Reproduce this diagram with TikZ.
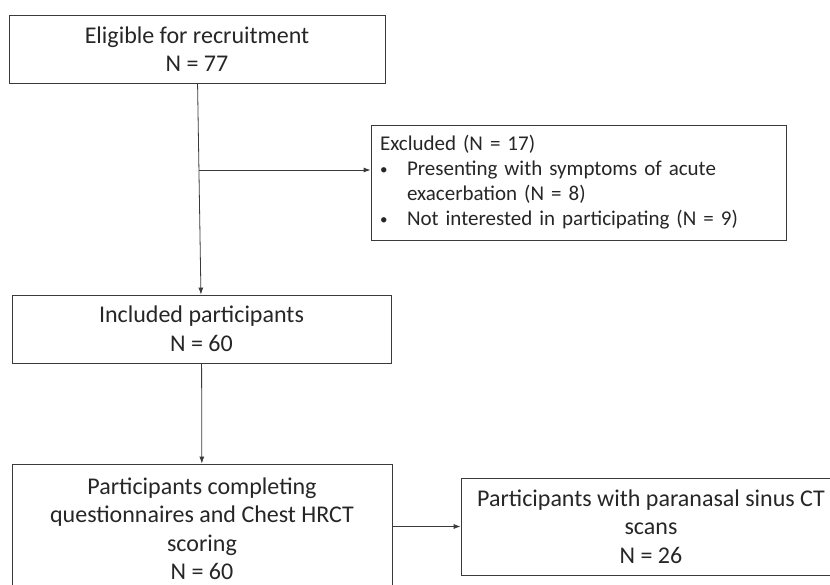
\documentclass[tikz,border=0pt]{standalone}
\usepackage{fontspec}
\setmainfont{Carlito}
\usetikzlibrary{calc}
\usetikzlibrary{positioning}
\usetikzlibrary{arrows.meta}
\definecolor{linegray}{HTML}{3A3A3A}
\definecolor{textgray}{HTML}{262626}
\newcommand{\smallbullet}{\makebox[27pt][l]{\raisebox{0.1ex}{\fontsize{15}{0}\selectfont\textbullet}}}

\begin{document}
\begin{tikzpicture}[
		x=1pt,y=-1pt,
		>={Latex[length=7pt,width=5pt]},
		stage/.style={draw=linegray,line width=0.8pt,rectangle,align=center,text=textgray,inner sep=0pt,font=\fontsize{24}{28.5}\selectfont},
		note/.style={draw=linegray,line width=0.8pt,rectangle,align=left,text=textgray,inner ysep=0pt,inner xsep=9pt,font=\fontsize{21}{25}\selectfont},
		flow/.style={->,draw=linegray,line width=0.8pt}
	]
		\useasboundingbox (0,0) rectangle (830,585);

		\node [stage,minimum width=376pt,minimum height=68pt] (eligible) at (197,49)
			{Eligible for recruitment\\N = 77};
		\node [note,minimum width=415pt,minimum height=115pt,text width=397pt] (excluded) at (578.5,182.5)
			{Excluded (N = 17)\\
			\smallbullet Presenting with symptoms of acute\\
			\hspace*{27pt}exacerbation (N = 8)\\
			\smallbullet Not interested in participating (N = 9)};
		\node [stage,minimum width=379pt,minimum height=68pt] (included) at (201.5,329)
			{Included participants\\N = 60};
		\node [stage,minimum width=380pt,minimum height=130pt] (completing) at (202,529)
			{Participants completing\\questionnaires and Chest HRCT\\scoring\\N = 60};
		\node [stage,minimum width=380pt,minimum height=97pt] (sinus) at (651,526.5)
			{Participants with paranasal sinus CT\\scans\\N = 26};

		\coordinate (branch) at (199,170);

		\draw [flow] (eligible) -- (included);
		\draw [flow] (branch) -- (branch -| excluded.west);
		\draw [flow] (included) -- (completing);
		\draw [flow] (sinus.west -| completing.east) -- (sinus.west);
	\end{tikzpicture}
\end{document}
